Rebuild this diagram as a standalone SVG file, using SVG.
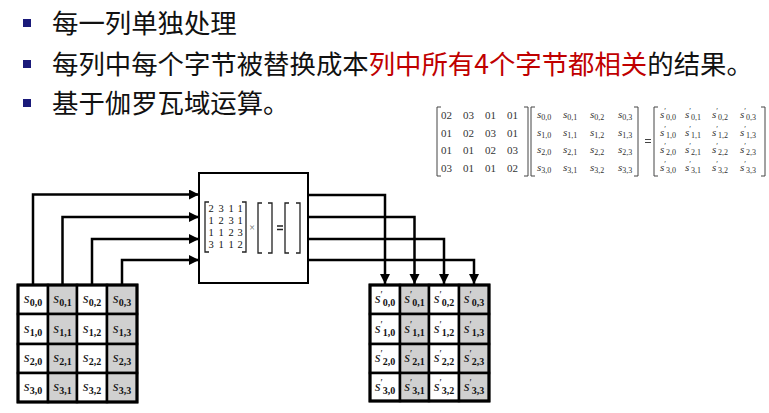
<svg xmlns="http://www.w3.org/2000/svg" width="769" height="413" viewBox="0 0 769 413">
<style>
.t{font-family:"Noto Sans CJK SC","Noto Sans",sans-serif;font-size:26.4px;fill:#111}
.red{fill:#c00000}
.bul{fill:#1a1a7a}
.cell{stroke:#000;stroke-width:2.5}
.w{fill:#fff}
.g{fill:#d0d0d0}
.c{font-family:"Liberation Serif",serif;font-size:15px;font-style:italic;fill:#111;text-anchor:middle}
.sb{font-size:10px;font-style:normal;font-weight:bold}
.pr{font-size:10px;font-style:normal}
.m{font-family:"Liberation Serif",serif;font-size:11px;fill:#333}
.mi{font-style:italic}
.ms{font-size:8px;font-style:normal}
.br{fill:none;stroke:#444;stroke-width:1}
.bx{fill:none;stroke:#222;stroke-width:1.3}
.d{font-family:"Liberation Serif",serif;font-size:10.5px;fill:#111;text-anchor:middle}
.conn{fill:none;stroke:#000;stroke-width:2.5}
</style>
<defs>
<marker id="ah" markerUnits="userSpaceOnUse" markerWidth="11" markerHeight="11" refX="10" refY="5" orient="auto">
<path d="M0,0 L10,5 L0,10 z" fill="#000"/>
</marker>
</defs>

<g id="bullets">
<rect class="bul" x="23" y="19" width="8" height="8"/>
<text class="t" x="52" y="33">每一列单独处理</text>
<rect class="bul" x="23" y="60" width="8" height="8"/>
<text class="t" x="52" y="74">每列中每个字节被替换成本<tspan class="red">列中所有4个字节都相关</tspan>的结果。</text>
<rect class="bul" x="23" y="99" width="8" height="8"/>
<text class="t" x="52" y="113">基于伽罗瓦域运算。</text>
</g>

<g id="equation">
<path class="br" d="M441,107 H437 V176 H441 M524,107 H528 V176 H524"/>
<path class="br" d="M535,107 H531 V176 H535 M634,107 H638 V176 H634"/>
<path class="br" d="M658,107 H654 V176 H658 M761,107 H765 V176 H761"/>
<path class="br" d="M645,139.5 H651 M645,142.5 H651"/>
<text class="m" y="119"><tspan x="441">02</tspan><tspan x="463">03</tspan><tspan x="485">01</tspan><tspan x="507">01</tspan></text>
<text class="m" y="137"><tspan x="441">01</tspan><tspan x="463">02</tspan><tspan x="485">03</tspan><tspan x="507">01</tspan></text>
<text class="m" y="154"><tspan x="441">01</tspan><tspan x="463">01</tspan><tspan x="485">02</tspan><tspan x="507">03</tspan></text>
<text class="m" y="172"><tspan x="441">03</tspan><tspan x="463">01</tspan><tspan x="485">01</tspan><tspan x="507">02</tspan></text>

<text class="m mi" x="537" y="118">s<tspan class="ms" dy="2">0,0</tspan></text>
<text class="m mi" x="563" y="118">s<tspan class="ms" dy="2">0,1</tspan></text>
<text class="m mi" x="590" y="118">s<tspan class="ms" dy="2">0,2</tspan></text>
<text class="m mi" x="618" y="118">s<tspan class="ms" dy="2">0,3</tspan></text>
<text class="m mi" x="537" y="136">s<tspan class="ms" dy="2">1,0</tspan></text>
<text class="m mi" x="563" y="136">s<tspan class="ms" dy="2">1,1</tspan></text>
<text class="m mi" x="590" y="136">s<tspan class="ms" dy="2">1,2</tspan></text>
<text class="m mi" x="618" y="136">s<tspan class="ms" dy="2">1,3</tspan></text>
<text class="m mi" x="537" y="153">s<tspan class="ms" dy="2">2,0</tspan></text>
<text class="m mi" x="563" y="153">s<tspan class="ms" dy="2">2,1</tspan></text>
<text class="m mi" x="590" y="153">s<tspan class="ms" dy="2">2,2</tspan></text>
<text class="m mi" x="618" y="153">s<tspan class="ms" dy="2">2,3</tspan></text>
<text class="m mi" x="537" y="171">s<tspan class="ms" dy="2">3,0</tspan></text>
<text class="m mi" x="563" y="171">s<tspan class="ms" dy="2">3,1</tspan></text>
<text class="m mi" x="590" y="171">s<tspan class="ms" dy="2">3,2</tspan></text>
<text class="m mi" x="618" y="171">s<tspan class="ms" dy="2">3,3</tspan></text>

<text class="m mi" x="660" y="118">s<tspan class="ms" dy="-4">′</tspan><tspan class="ms" dy="6">0,0</tspan></text>
<text class="m mi" x="685" y="118">s<tspan class="ms" dy="-4">′</tspan><tspan class="ms" dy="6">0,1</tspan></text>
<text class="m mi" x="712" y="118">s<tspan class="ms" dy="-4">′</tspan><tspan class="ms" dy="6">0,2</tspan></text>
<text class="m mi" x="740" y="118">s<tspan class="ms" dy="-4">′</tspan><tspan class="ms" dy="6">0,3</tspan></text>
<text class="m mi" x="660" y="136">s<tspan class="ms" dy="-4">′</tspan><tspan class="ms" dy="6">1,0</tspan></text>
<text class="m mi" x="685" y="136">s<tspan class="ms" dy="-4">′</tspan><tspan class="ms" dy="6">1,1</tspan></text>
<text class="m mi" x="712" y="136">s<tspan class="ms" dy="-4">′</tspan><tspan class="ms" dy="6">1,2</tspan></text>
<text class="m mi" x="740" y="136">s<tspan class="ms" dy="-4">′</tspan><tspan class="ms" dy="6">1,3</tspan></text>
<text class="m mi" x="660" y="153">s<tspan class="ms" dy="-4">′</tspan><tspan class="ms" dy="6">2,0</tspan></text>
<text class="m mi" x="685" y="153">s<tspan class="ms" dy="-4">′</tspan><tspan class="ms" dy="6">2,1</tspan></text>
<text class="m mi" x="712" y="153">s<tspan class="ms" dy="-4">′</tspan><tspan class="ms" dy="6">2,2</tspan></text>
<text class="m mi" x="740" y="153">s<tspan class="ms" dy="-4">′</tspan><tspan class="ms" dy="6">2,3</tspan></text>
<text class="m mi" x="660" y="171">s<tspan class="ms" dy="-4">′</tspan><tspan class="ms" dy="6">3,0</tspan></text>
<text class="m mi" x="685" y="171">s<tspan class="ms" dy="-4">′</tspan><tspan class="ms" dy="6">3,1</tspan></text>
<text class="m mi" x="712" y="171">s<tspan class="ms" dy="-4">′</tspan><tspan class="ms" dy="6">3,2</tspan></text>
<text class="m mi" x="740" y="171">s<tspan class="ms" dy="-4">′</tspan><tspan class="ms" dy="6">3,3</tspan></text>
</g>

<g id="mix-box">
<rect x="199" y="173" width="109" height="110" fill="#fff" stroke="#000" stroke-width="2"/>
<path class="bx" d="M209,202 H205 V252 H209 M242,202 H246 V252 H242"/>
<text class="d" y="212"><tspan x="211">2</tspan><tspan x="221">3</tspan><tspan x="231">1</tspan><tspan x="240">1</tspan></text>
<text class="d" y="224"><tspan x="211">1</tspan><tspan x="221">2</tspan><tspan x="231">3</tspan><tspan x="240">1</tspan></text>
<text class="d" y="236"><tspan x="211">1</tspan><tspan x="221">1</tspan><tspan x="231">2</tspan><tspan x="240">3</tspan></text>
<text class="d" y="248"><tspan x="211">3</tspan><tspan x="221">1</tspan><tspan x="231">1</tspan><tspan x="240">2</tspan></text>
<text class="d" x="252" y="231" style="font-size:10px;fill:#666">×</text>
<path class="bx" d="M262,203 H258 V253 H262 M268,203 H272 V253 H268"/>
<path class="bx" d="M277,226 H283 M277,229.5 H283" stroke-width="1.6"/>
<path class="bx" d="M289,203 H285 V253 H289 M296,203 H300 V253 H296"/>
</g>

<g id="state-in">
<rect class="cell w" x="18" y="285" width="30" height="29"/><rect class="cell g" x="48" y="285" width="29" height="29"/><rect class="cell w" x="77" y="285" width="30" height="29"/><rect class="cell g" x="107" y="285" width="30" height="29"/>
<rect class="cell w" x="18" y="314" width="30" height="30"/><rect class="cell g" x="48" y="314" width="29" height="30"/><rect class="cell w" x="77" y="314" width="30" height="30"/><rect class="cell g" x="107" y="314" width="30" height="30"/>
<rect class="cell w" x="18" y="344" width="30" height="29"/><rect class="cell g" x="48" y="344" width="29" height="29"/><rect class="cell w" x="77" y="344" width="30" height="29"/><rect class="cell g" x="107" y="344" width="30" height="29"/>
<rect class="cell w" x="18" y="373" width="30" height="29"/><rect class="cell g" x="48" y="373" width="29" height="29"/><rect class="cell w" x="77" y="373" width="30" height="29"/><rect class="cell g" x="107" y="373" width="30" height="29"/>
<rect x="18" y="285" width="119" height="117" fill="none" stroke="#000" stroke-width="3"/>
<text class="c" x="33" y="303">s<tspan class="sb" dy="3">0,0</tspan></text>
<text class="c" x="62.5" y="303">s<tspan class="sb" dy="3">0,1</tspan></text>
<text class="c" x="92" y="303">s<tspan class="sb" dy="3">0,2</tspan></text>
<text class="c" x="122" y="303">s<tspan class="sb" dy="3">0,3</tspan></text>
<text class="c" x="33" y="333">s<tspan class="sb" dy="3">1,0</tspan></text>
<text class="c" x="62.5" y="333">s<tspan class="sb" dy="3">1,1</tspan></text>
<text class="c" x="92" y="333">s<tspan class="sb" dy="3">1,2</tspan></text>
<text class="c" x="122" y="333">s<tspan class="sb" dy="3">1,3</tspan></text>
<text class="c" x="33" y="362">s<tspan class="sb" dy="3">2,0</tspan></text>
<text class="c" x="62.5" y="362">s<tspan class="sb" dy="3">2,1</tspan></text>
<text class="c" x="92" y="362">s<tspan class="sb" dy="3">2,2</tspan></text>
<text class="c" x="122" y="362">s<tspan class="sb" dy="3">2,3</tspan></text>
<text class="c" x="33" y="391">s<tspan class="sb" dy="3">3,0</tspan></text>
<text class="c" x="62.5" y="391">s<tspan class="sb" dy="3">3,1</tspan></text>
<text class="c" x="92" y="391">s<tspan class="sb" dy="3">3,2</tspan></text>
<text class="c" x="122" y="391">s<tspan class="sb" dy="3">3,3</tspan></text>
</g>

<g id="state-out">
<rect class="cell w" x="370" y="285" width="30" height="29"/><rect class="cell g" x="400" y="285" width="29" height="29"/><rect class="cell w" x="429" y="285" width="30" height="29"/><rect class="cell g" x="459" y="285" width="30" height="29"/>
<rect class="cell w" x="370" y="314" width="30" height="30"/><rect class="cell g" x="400" y="314" width="29" height="30"/><rect class="cell w" x="429" y="314" width="30" height="30"/><rect class="cell g" x="459" y="314" width="30" height="30"/>
<rect class="cell w" x="370" y="344" width="30" height="29"/><rect class="cell g" x="400" y="344" width="29" height="29"/><rect class="cell w" x="429" y="344" width="30" height="29"/><rect class="cell g" x="459" y="344" width="30" height="29"/>
<rect class="cell w" x="370" y="373" width="30" height="28"/><rect class="cell g" x="400" y="373" width="29" height="28"/><rect class="cell w" x="429" y="373" width="30" height="28"/><rect class="cell g" x="459" y="373" width="30" height="28"/>
<rect x="370" y="285" width="119" height="116" fill="none" stroke="#000" stroke-width="3"/>
<text class="c" x="385" y="303">s<tspan class="pr" dy="-5">′</tspan><tspan class="sb" dy="8">0,0</tspan></text>
<text class="c" x="414.5" y="303">s<tspan class="pr" dy="-5">′</tspan><tspan class="sb" dy="8">0,1</tspan></text>
<text class="c" x="444" y="303">s<tspan class="pr" dy="-5">′</tspan><tspan class="sb" dy="8">0,2</tspan></text>
<text class="c" x="474" y="303">s<tspan class="pr" dy="-5">′</tspan><tspan class="sb" dy="8">0,3</tspan></text>
<text class="c" x="385" y="333">s<tspan class="pr" dy="-5">′</tspan><tspan class="sb" dy="8">1,0</tspan></text>
<text class="c" x="414.5" y="333">s<tspan class="pr" dy="-5">′</tspan><tspan class="sb" dy="8">1,1</tspan></text>
<text class="c" x="444" y="333">s<tspan class="pr" dy="-5">′</tspan><tspan class="sb" dy="8">1,2</tspan></text>
<text class="c" x="474" y="333">s<tspan class="pr" dy="-5">′</tspan><tspan class="sb" dy="8">1,3</tspan></text>
<text class="c" x="385" y="362">s<tspan class="pr" dy="-5">′</tspan><tspan class="sb" dy="8">2,0</tspan></text>
<text class="c" x="414.5" y="362">s<tspan class="pr" dy="-5">′</tspan><tspan class="sb" dy="8">2,1</tspan></text>
<text class="c" x="444" y="362">s<tspan class="pr" dy="-5">′</tspan><tspan class="sb" dy="8">2,2</tspan></text>
<text class="c" x="474" y="362">s<tspan class="pr" dy="-5">′</tspan><tspan class="sb" dy="8">2,3</tspan></text>
<text class="c" x="385" y="391">s<tspan class="pr" dy="-5">′</tspan><tspan class="sb" dy="8">3,0</tspan></text>
<text class="c" x="414.5" y="391">s<tspan class="pr" dy="-5">′</tspan><tspan class="sb" dy="8">3,1</tspan></text>
<text class="c" x="444" y="391">s<tspan class="pr" dy="-5">′</tspan><tspan class="sb" dy="8">3,2</tspan></text>
<text class="c" x="474" y="391">s<tspan class="pr" dy="-5">′</tspan><tspan class="sb" dy="8">3,3</tspan></text>
</g>

<g id="connectors">
<path class="conn" marker-end="url(#ah)" d="M33,284 V194.5 H199"/>
<path class="conn" marker-end="url(#ah)" d="M62.5,284 V217 H199"/>
<path class="conn" marker-end="url(#ah)" d="M92,284 V239 H199"/>
<path class="conn" marker-end="url(#ah)" d="M122,284 V260 H199"/>
<path class="conn" marker-end="url(#ah)" d="M308,195 H385 V284"/>
<path class="conn" marker-end="url(#ah)" d="M308,217 H414.5 V284"/>
<path class="conn" marker-end="url(#ah)" d="M308,239 H444 V284"/>
<path class="conn" marker-end="url(#ah)" d="M308,260 H474 V284"/>
</g>
</svg>
